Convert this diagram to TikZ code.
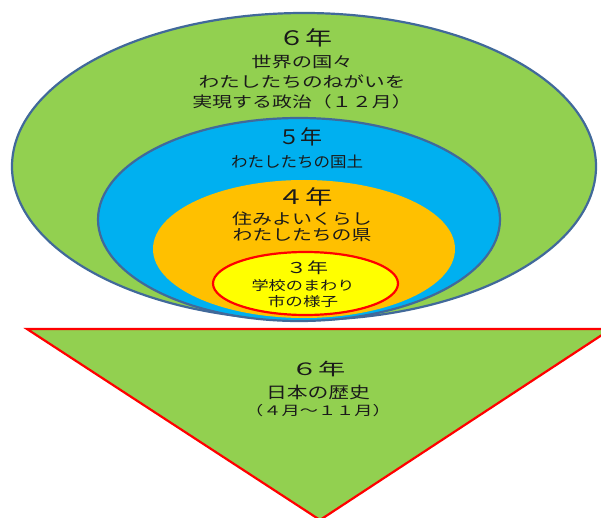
\documentclass[tikz,border=0pt]{standalone}
\usepackage{fontspec}
\newcommand{\jpf}[2]{\fontspec[FakeStretch=#2]{Noto Sans CJK JP}\fontsize{#1}{#1}\selectfont}
\definecolor{cgreen}{HTML}{92D050}
\definecolor{cblue}{HTML}{00B0F0}
\definecolor{corange}{HTML}{FFC000}
\definecolor{cyellow}{HTML}{FFFF00}
\definecolor{cedge}{HTML}{41699A}
\definecolor{ctext}{HTML}{1A1A1A}
\tikzset{
  ring/.style={draw=cedge, line width=2.2pt},
  redline/.style={draw=red, line width=2.2pt},
  lbl/.style={inner sep=0pt, text=ctext, anchor=center},
}
\begin{document}
\begin{tikzpicture}[x=1pt,y=-1pt]
\useasboundingbox (0,0) rectangle (601,518);
% ellipses
\fill[cgreen] (304,166.5) ellipse [x radius=292, y radius=153.5];
\draw[ring] (304,166.5) ellipse [x radius=292, y radius=153.5];
\fill[cblue] (299,219.5) ellipse [x radius=201, y radius=101.5];
\draw[ring] (299,219.5) ellipse [x radius=201, y radius=101.5];
\fill[corange] (304,249) ellipse [x radius=151, y radius=69];
\filldraw[fill=cyellow, redline] (305.5,283.5) ellipse [x radius=92.5, y radius=31.5];
% triangle
\filldraw[fill=cgreen, redline] (27,329) -- (611,329) -- (320,520) -- cycle;
% texts
\node[lbl, font=\jpf{20}{1.35}] (g6) at (305,38) {６年};
\node[lbl, font=\jpf{15}{1.35}] (g6a) at (302,62) {世界の国々};
\node[lbl, font=\jpf{15}{1.38}] (g6b) at (302,82) {わたしたちのねがいを};
\node[lbl, font=\jpf{15}{1.33}] (g6c) at (302,102) {実現する政治（１２月）};
\node[lbl, font=\jpf{20}{1.1}] (g5) at (300,137) {５年};
\node[lbl, font=\jpf{15}{1.1}] (g5a) at (297,162) {わたしたちの国土};
\node[lbl, font=\jpf{20}{1.37}] (g4) at (305,197) {４年};
\node[lbl, font=\jpf{15}{1.33}] (g4a) at (302,219) {住みよいくらし};
\node[lbl, font=\jpf{15}{1.32}] (g4b) at (302,235) {わたしたちの県};
\node[lbl, font=\jpf{15}{1.4}] (g3) at (307,268) {３年};
\node[lbl, font=\jpf{13}{1.32}] (g3a) at (303,286) {学校のまわり};
\node[lbl, font=\jpf{13}{1.35}] (g3b) at (303,302) {市の様子};
\node[lbl, font=\jpf{17}{1.6}] (h6) at (318,369) {６年};
\node[lbl, font=\jpf{16}{1.3}] (h6a) at (318,392) {日本の歴史};
\node[lbl, font=\jpf{13}{1.4}] (h6b) at (318,411) {（４月～１１月）};
\end{tikzpicture}
\end{document}
